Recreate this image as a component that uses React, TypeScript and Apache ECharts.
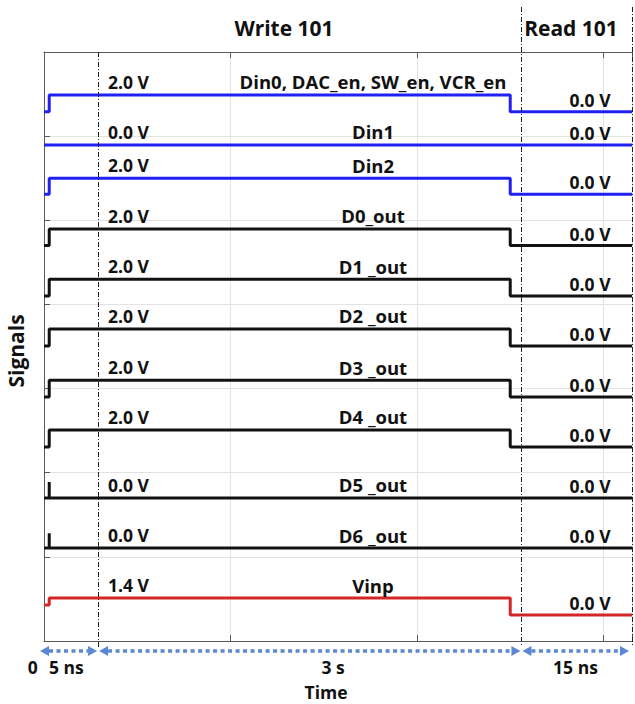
import React, { useEffect, useRef } from "react";
import * as echarts from "echarts";

// ---- Data (x in schematic time-axis units, y in stacked display units) ----
const X_MAX = 3.153;
const RISE_T = 0.028; // rising edge position
const FALL_T = 2.5; // falling edge position
const PHASE_BOUNDS = [0.29, 2.56, X_MAX]; // end of "5 ns", end of write "3 s", end of "15 ns"

const signalNames = [
  "Din0, DAC_en, SW_en, VCR_en",
  "Din1",
  "Din2",
  "D0_out",
  "D1 _out",
  "D2 _out",
  "D3 _out",
  "D4 _out",
  "D5 _out",
  "D6 _out",
  "Vinp",
];
const writeVoltLabels = ["2.0 V", "0.0 V", "2.0 V", "2.0 V", "2.0 V", "2.0 V", "2.0 V", "2.0 V", "0.0 V", "0.0 V", "1.4 V"];
const readVoltLabels = ["0.0 V", "0.0 V", "0.0 V", "0.0 V", "0.0 V", "0.0 V", "0.0 V", "0.0 V", "0.0 V", "0.0 V", "0.0 V"];
const startLevel = [6.29, 5.895, 5.31, 4.7, 4.1, 3.506, 2.9, 2.306, 1.7, 1.105, 0.428];
const writeLevel = [6.49, 5.895, 5.5, 4.897, 4.3, 3.708, 3.1, 2.508, 1.7, 1.105, 0.511];
const readLevel = [6.29, 5.895, 5.31, 4.7, 4.1, 3.506, 2.9, 2.306, 1.7, 1.105, 0.309];
const spikeLevel: (number | null)[] = [null, null, null, null, null, null, null, null, 1.89, 1.28, null];
const signalColors = ["blue", "blue", "blue", "black", "black", "black", "black", "black", "black", "black", "red"];

const timeLabels = ["0", "5 ns", "3 s", "15 ns"];
const timeLabelPos = [-0.06, 0.12, 1.55, 2.85];

const COLOR_MAP: Record<string, string> = { blue: "#2020f4", black: "#121212", red: "#d42626" };
const FONT = '"Open Sans", "DejaVu Sans", sans-serif';
const ARROW_COLOR = "#5b87d3";

function buildTrace(i: number): number[][] {
  const sp = spikeLevel[i];
  if (sp !== null) {
    const b = startLevel[i];
    return [
      [0, b],
      [RISE_T, b],
      [RISE_T, sp],
      [RISE_T, b],
      [X_MAX, b],
    ];
  }
  return [
    [0, startLevel[i]],
    [RISE_T, startLevel[i]],
    [RISE_T, writeLevel[i]],
    [FALL_T, writeLevel[i]],
    [FALL_T, readLevel[i]],
    [X_MAX, readLevel[i]],
  ];
}

export default function App() {
  const ref = useRef<HTMLDivElement>(null);
  useEffect(() => {
    const chart = echarts.init(ref.current!, null, { renderer: "svg" });
    const axisLine = { show: true, lineStyle: { color: "#5a5a5a", width: 1 } };
    const axisTick = { show: true, inside: true, length: 6, lineStyle: { color: "#5a5a5a" } };
    chart.setOption({
      animation: false,
      backgroundColor: "#ffffff",
      grid: { left: 44, top: 52, width: 588, height: 589 },
      xAxis: [
        {
          type: "value",
          min: 0,
          max: X_MAX,
          interval: 1,
          position: "bottom",
          axisLine,
          axisTick,
          axisLabel: { show: false },
          splitLine: { show: true, lineStyle: { color: "#e2e2e2", width: 1 } },
        },
        {
          type: "value",
          min: 0,
          max: X_MAX,
          interval: 1,
          position: "top",
          axisLine,
          axisTick,
          axisLabel: { show: false },
          splitLine: { show: false },
        },
      ],
      yAxis: {
        type: "value",
        min: 0,
        max: 7,
        interval: 1,
        axisLine,
        axisTick,
        axisLabel: { show: false },
        splitLine: { show: true, lineStyle: { color: "#e2e2e2", width: 1 } },
      },
      series: signalNames.map((name, i) => ({
        type: "line",
        name,
        data: buildTrace(i),
        showSymbol: false,
        symbol: "none",
        lineStyle: { color: COLOR_MAP[signalColors[i]], width: 3 },
        z: 3,
      })),
    });

    const px = (x: number, y: number) =>
      chart.convertToPixel({ xAxisIndex: 0, yAxisIndex: 0 }, [x, y]) as number[];

    const textEl = (
      text: string,
      x: number,
      y: number,
      size: number,
      align: string = "center",
      rotation = 0
    ) => ({
      type: "text",
      x,
      y,
      rotation,
      z: 10,
      style: {
        text,
        fill: "#111111",
        fontSize: size,
        fontWeight: "bold",
        fontFamily: FONT,
        align,
        verticalAlign: "middle",
      },
    });

    const graphics: any[] = [];

    // signal labels
    signalNames.forEach((name, i) => {
      const yw = px(0, writeLevel[i])[1];
      const yr = px(0, readLevel[i])[1];
      const leftX = px(0.343, 0)[0];
      const midX = px(1.764, 0)[0];
      const rightX = px(2.928, 0)[0];
      graphics.push(textEl(writeVoltLabels[i], leftX, yw - 13, 17.5, "left"));
      graphics.push(textEl(name, midX, yw - 13, 18.5, "center"));
      graphics.push(textEl(readVoltLabels[i], rightX, yr - 12, 17.5, "center"));
    });

    // dashed phase separators
    const sepTop = [px(0, 7)[1], 7, 7];
    const sepBottom = [648, 645, 645];
    PHASE_BOUNDS.forEach((b, k) => {
      const x = Math.round(px(b, 0)[0]) + 0.5;
      graphics.push({
        type: "line",
        z: 5,
        shape: { x1: x, y1: sepTop[k], x2: x, y2: sepBottom[k] },
        style: { stroke: "#222222", lineWidth: 1, lineDash: [5, 2, 1, 2] },
      });
    });

    // arrows
    const arrowY = 651;
    const starts = [px(0, 0)[0] - 4, px(PHASE_BOUNDS[0], 0)[0] + 1, px(PHASE_BOUNDS[1], 0)[0] + 1];
    const ends = [px(PHASE_BOUNDS[0], 0)[0] - 1, px(PHASE_BOUNDS[1], 0)[0] - 1, px(PHASE_BOUNDS[2], 0)[0] - 3];
    starts.forEach((s, k) => {
      const e = ends[k];
      const head = 9;
      const half = 5;
      graphics.push({
        type: "line",
        z: 5,
        shape: { x1: s + head, y1: arrowY, x2: e - head, y2: arrowY },
        style: { stroke: ARROW_COLOR, lineWidth: 3.5, lineDash: [4, 3.5] },
      });
      graphics.push({
        type: "polygon",
        z: 5,
        shape: { points: [[s, arrowY], [s + head, arrowY - half], [s + head, arrowY + half]] },
        style: { fill: ARROW_COLOR },
      });
      graphics.push({
        type: "polygon",
        z: 5,
        shape: { points: [[e, arrowY], [e - head, arrowY - half], [e - head, arrowY + half]] },
        style: { fill: ARROW_COLOR },
      });
    });

    // time labels
    timeLabels.forEach((t, k) => {
      graphics.push(textEl(t, px(timeLabelPos[k], 0)[0], 667, 17.5, "center"));
    });

    // titles
    graphics.push(textEl("Write 101", 284, 28, 21, "center"));
    graphics.push(textEl("Read 101", 571, 28, 21, "center"));
    graphics.push(textEl("Time", 326, 692, 17.5, "center"));
    graphics.push(textEl("Signals", 16, 351, 21, "center", Math.PI / 2));

    chart.setOption({ graphic: graphics });

    return () => chart.dispose();
  }, []);
  return (
    <div
      ref={ref}
      style={{ position: "fixed", left: 0, top: 0, width: 635, height: 704, background: "#fff" }}
    />
  );
}
